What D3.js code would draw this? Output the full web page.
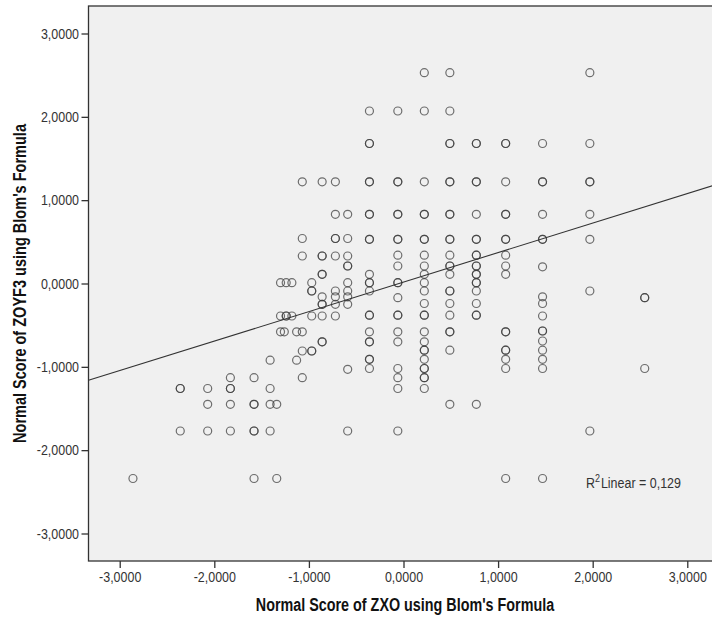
<!DOCTYPE html>
<html>
<head>
<meta charset="utf-8">
<script src="https://cdn.jsdelivr.net/npm/d3@7"></script>
<style>
    body { margin: 0; background: #fff; }
    svg { display: block; font-family: 'Liberation Sans', Arial, sans-serif; }
</style>
</head>
<body>
<svg id="chart" width="712" height="623"></svg>
<script>
// Blom normal scores, grouped by ZXO column (x) with the ZOYF3 scores (y) in each column;
// repeated values are cases that sit on top of each other
const columnX = [-2.86, -2.36, -2.07, -1.83, -1.58, -1.41, -1.34, -1.30, -1.26, -1.24, -1.18, -1.13, -1.07,
    -0.97, -0.86, -0.72, -0.59, -0.36, -0.06, 0.22, 0.49, 0.77, 1.08, 1.47, 1.97, 2.55];
const columnY = [
    [-2.34],
    [-1.26, -1.26, -1.77],
    [-1.26, -1.45, -1.77],
    [-1.13, -1.26, -1.26, -1.45, -1.77],
    [-1.13, -1.45, -1.45, -1.77, -1.77, -2.34],
    [-0.92, -1.26, -1.45, -1.77],
    [-1.45, -2.34],
    [0.01, -0.39, -0.58],
    [-0.58],
    [0.01, -0.39, -0.39],
    [0.01, -0.39],
    [-0.58, -0.92],
    [1.22, 0.54, 0.33, -0.58, -0.81, -1.13],
    [0.01, -0.09, -0.09, -0.39, -0.81, -0.81],
    [1.22, 0.33, 0.33, 0.11, 0.11, -0.16, -0.25, -0.25, -0.39, -0.70, -0.70],
    [1.22, 0.83, 0.54, 0.54, 0.33, -0.09, -0.16, -0.25, -0.39],
    [0.83, 0.54, 0.33, 0.21, 0.21, 0.01, -0.09, -0.16, -0.25, -1.03, -1.77],
    [2.07, 1.68, 1.68, 1.22, 1.22, 0.83, 0.83, 0.53, 0.53, 0.11, 0.01, 0.01, -0.09, -0.38, -0.38, -0.58, -0.70, -0.70,
        -0.91, -0.91, -1.02],
    [2.07, 1.22, 1.22, 0.83, 0.83, 0.53, 0.53, 0.34, 0.21, 0.01, 0.01, -0.17, -0.38, -0.38, -0.58, -0.70, -1.02, -1.13,
        -1.26, -1.77],
    [2.53, 2.07, 1.22, 0.83, 0.83, 0.53, 0.53, 0.34, 0.21, 0.11, 0.01, -0.09, -0.24, -0.38, -0.38, -0.58, -0.70, -0.80,
        -0.80, -0.91, -1.02, -1.02, -1.13, -1.13, -1.26],
    [2.53, 2.07, 1.68, 1.68, 1.22, 1.22, 0.83, 0.83, 0.53, 0.53, 0.34, 0.21, 0.21, 0.11, -0.09, -0.09, -0.24, -0.38,
        -0.58, -0.58, -0.80, -1.45],
    [1.68, 1.68, 1.22, 1.22, 0.83, 0.53, 0.53, 0.34, 0.34, 0.21, 0.21, 0.11, 0.11, 0.01, 0.01, -0.09, -0.24, -0.38,
        -0.38, -1.45],
    [1.68, 1.68, 1.22, 0.83, 0.83, 0.53, 0.53, 0.34, 0.21, 0.11, -0.58, -0.58, -0.80, -0.80, -0.91, -1.02, -2.34],
    [1.68, 1.22, 1.22, 0.83, 0.53, 0.53, 0.20, -0.16, -0.24, -0.39, -0.57, -0.57, -0.69, -0.80, -0.91, -1.02, -2.34],
    [2.53, 1.68, 1.22, 1.22, 0.83, 0.53, -0.09, -1.77],
    [-0.17, -0.17, -1.02],
];
const xTicks = [-3, -2, -1, 0, 1, 2, 3];
const yTicks = [-3, -2, -1, 0, 1, 2, 3];
const xTitle = "Normal Score of ZXO using Blom's Formula";
const yTitle = "Normal Score of ZOYF3 using Blom's Formula";
// linear fit as printed in the chart
const fitIntercept = 0.017;
const fitSlope = 0.354;
const rSquared = '0,129';

const points = columnX.flatMap((x, i) => columnY[i].map(y => ({ x, y })));

const plotLeft = 88.5;
const plotTop = 6;
const plotBottom = 561;
const x = d3.scaleLinear().domain([-3.33, 3.33]).range([plotLeft, plotLeft + 630]);
const y = d3.scaleLinear().domain([-3.33, 3.33]).range([plotBottom, plotTop]);

const locale = d3.formatLocale({ decimal: ',', thousands: '.', grouping: [3], currency: ['', ''], minus: '-' });
const fmt = locale.format('.4f');

// the original uses a narrow face; squeeze the regular one instead
const narrow = 0.86;

const svg = d3.select('#chart');

svg.append('clipPath')
    .attr('id', 'plot-clip')
    .append('rect')
    .attr('x', x.range()[0])
    .attr('y', plotTop)
    .attr('width', x.range()[1] - x.range()[0])
    .attr('height', plotBottom - plotTop);

svg.append('rect')
    .attr('x', x.range()[0])
    .attr('y', plotTop)
    .attr('width', x.range()[1] - x.range()[0])
    .attr('height', plotBottom - plotTop)
    .attr('fill', '#f0f0f0')
    .attr('stroke', '#333')
    .attr('stroke-width', 1.3);

const yAxis = svg.append('g')
    .attr('transform', `translate(${plotLeft},0)`)
    .call(d3.axisLeft(y).tickValues(yTicks).tickFormat(fmt).tickSize(7).tickPadding(4));
const xAxis = svg.append('g')
    .attr('transform', `translate(0,${plotBottom})`)
    .call(d3.axisBottom(x).tickValues(xTicks).tickFormat(fmt).tickSize(7).tickPadding(4));
[xAxis, yAxis].forEach(g => {
    g.select('.domain').remove();
    g.selectAll('.tick line').attr('stroke', '#333').attr('stroke-width', 1.3);
    g.selectAll('.tick text')
        .attr('fill', '#333')
        .attr('transform', `scale(${narrow},1)`)
        .style('font-size', '14.5px');
});

const plot = svg.append('g').attr('clip-path', 'url(#plot-clip)');

plot.selectAll('circle')
    .data(points)
    .enter()
    .append('circle')
    .attr('cx', d => x(d.x))
    .attr('cy', d => y(d.y))
    .attr('r', 4)
    .attr('fill', 'none')
    .attr('stroke', '#3a3a3a')
    .attr('stroke-opacity', 0.72)
    .attr('stroke-width', 1.2);

const fitX = x.domain();
plot.append('line')
    .attr('x1', x(fitX[0]))
    .attr('y1', y(fitIntercept + fitSlope * fitX[0]))
    .attr('x2', x(fitX[1]))
    .attr('y2', y(fitIntercept + fitSlope * fitX[1]))
    .attr('stroke', '#333')
    .attr('stroke-width', 1.1);

const r2 = svg.append('text')
    .attr('transform', `translate(586,488) scale(${narrow},1)`)
    .attr('fill', '#333')
    .style('font-size', '14.5px');
r2.append('tspan').text('R');
r2.append('tspan').attr('dy', -6).style('font-size', '10.5px').text('2');
r2.append('tspan').attr('dy', 6).attr('dx', 1).text(`Linear = ${rSquared}`);

svg.append('text')
    .attr('transform', `translate(405,611) scale(0.82,1)`)
    .attr('text-anchor', 'middle')
    .attr('fill', '#111')
    .style('font-size', '17.5px')
    .style('font-weight', 'bold')
    .text(xTitle);

svg.append('text')
    .attr('transform', `translate(26,${(plotTop + plotBottom) / 2}) rotate(-90) scale(0.83,1)`)
    .attr('text-anchor', 'middle')
    .attr('fill', '#111')
    .style('font-size', '17.5px')
    .style('font-weight', 'bold')
    .text(yTitle);
</script>
</body>
</html>
